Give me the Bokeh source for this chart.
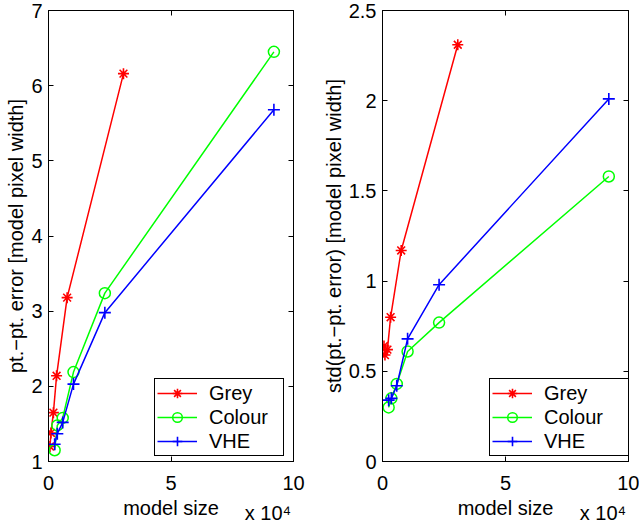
from bokeh.plotting import figure
from bokeh.layouts import row
from bokeh.models import (LinearAxis, FixedTicker, Legend, LegendItem, Range1d,
                          CustomLabelingPolicy)
from bokeh.embed import file_html
from bokeh.resources import INLINE

# ---- data (model size in absolute units) ----
grey_size = [600, 1000, 2000, 3300, 7600, 30600]
grey_err = [1.20, 1.38, 1.65, 2.14, 3.18, 6.16]
grey_std = [0.64, 0.59, 0.62, 0.80, 1.17, 2.31]

colour_size = [2500, 3600, 5800, 10200, 23000, 92000]
colour_err = [1.15, 1.48, 1.58, 2.19, 3.24, 6.45]
colour_std = [0.30, 0.35, 0.43, 0.61, 0.77, 1.58]

vhe_size = [2500, 3600, 5800, 10200, 23000, 92000]
vhe_err = [1.23, 1.37, 1.52, 2.03, 2.98, 5.68]
vhe_std = [0.34, 0.35, 0.42, 0.68, 0.98, 2.01]

x_ticks = [0, 50000, 100000]
x_tick_labels = ["0", "5", "10"]
left_y_ticks = [1, 2, 3, 4, 5, 6, 7]
left_y_labels = ["1", "2", "3", "4", "5", "6", "7"]
right_y_ticks = [0, 0.5, 1, 1.5, 2, 2.5]
right_y_labels = ["0", "0.5", "1", "1.5", "2", "2.5"]

x_title = "model size"
x_scale_note = "x 10\u2074"
left_title = "pt.\u2212pt. error [model pixel width]"
right_title = "std(pt.\u2212pt. error) [model pixel width]"

FONT = "Liberation Sans"
FS = "20px"


def style_axis(ax, ticks, labels, show_labels=True):
    ax.ticker = FixedTicker(ticks=ticks)
    ax.axis_line_color = "black"
    ax.axis_line_width = 1
    ax.major_tick_line_color = "black"
    ax.major_tick_in = 5
    ax.major_tick_out = 0
    ax.minor_tick_line_color = None
    ax.major_label_text_font = FONT
    ax.major_label_text_color = "black"
    ax.axis_label_text_font = FONT
    ax.axis_label_text_font_size = FS
    ax.axis_label_text_font_style = "normal"
    ax.axis_label_text_color = "black"
    if show_labels:
        ax.major_label_overrides = {t: l for t, l in zip(ticks, labels)}
        ax.major_label_text_font_size = FS
        ax.major_label_standoff = 5
    else:
        ax.major_label_overrides = {t: "" for t in ticks}
        ax.major_label_text_font_size = "1px"
        ax.major_label_standoff = 0
        ax.major_label_policy = CustomLabelingPolicy(code="return []")


def text_row(tick, text, standoff):
    ax = LinearAxis(ticker=FixedTicker(ticks=[tick]),
                    major_label_overrides={tick: text})
    ax.axis_line_color = None
    ax.major_tick_line_color = None
    ax.minor_tick_line_color = None
    ax.major_tick_in = 0
    ax.major_tick_out = 0
    ax.major_label_standoff = standoff
    ax.major_label_text_font = FONT
    ax.major_label_text_font_size = FS
    ax.major_label_text_color = "black"
    return ax


def panel(ylabel, err_grey, err_col, err_vhe, yr, yticks, ylabels,
          width, bl, br, leg_x, leg_label_w):
    p = figure(width=width, height=526, output_backend="svg", toolbar_location=None,
               x_range=Range1d(0, 100000), y_range=Range1d(*yr),
               min_border_left=bl, min_border_right=br,
               min_border_top=10, min_border_bottom=63)
    p.grid.visible = False
    p.outline_line_color = "black"
    p.background_fill_color = "white"
    p.border_fill_color = "white"

    style_axis(p.xaxis[0], x_ticks, x_tick_labels)
    p.xaxis[0].major_label_standoff = 14
    style_axis(p.yaxis[0], yticks, ylabels)
    p.yaxis[0].major_label_standoff = 6
    p.yaxis[0].axis_label = ylabel
    p.yaxis[0].axis_label_standoff = 1

    # rows below the x axis: axis title, then the x10^4 multiplier (slightly lower)
    p.add_layout(text_row(50000, x_title, 4), "below")
    p.add_layout(text_row(89600, x_scale_note, -20), "below")

    top = LinearAxis()
    style_axis(top, x_ticks, x_tick_labels, show_labels=False)
    p.add_layout(top, "above")
    right = LinearAxis()
    style_axis(right, yticks, ylabels, show_labels=False)
    p.add_layout(right, "right")

    items = []
    for name, xs, ys, color, marker, msize in [
        ("Grey", grey_size, err_grey, "#ff0000", "asterisk", 11),
        ("Colour", colour_size, err_col, "#00ff00", "circle", 11),
        ("VHE", vhe_size, err_vhe, "#0000ff", "cross", 12),
    ]:
        l = p.line(xs, ys, line_color=color, line_width=1.5)
        if marker == "circle":
            s = p.scatter(xs, ys, marker=marker, size=msize, fill_color=None,
                          line_color=color, line_width=1.5)
        else:
            s = p.scatter(xs, ys, marker=marker, size=msize, line_color=color,
                          line_width=1.6)
        items.append(LegendItem(label=name, renderers=[l, s]))

    leg = Legend(items=items, location=(leg_x, 5))
    leg.label_text_font = FONT
    leg.label_text_font_size = FS
    leg.label_text_color = "black"
    leg.border_line_color = "black"
    leg.border_line_width = 1
    leg.border_line_alpha = 1
    leg.background_fill_color = "white"
    leg.background_fill_alpha = 1
    leg.padding = 2
    leg.spacing = 0
    leg.margin = 0
    leg.glyph_width = 40
    leg.glyph_height = 24
    leg.label_height = 24
    leg.label_standoff = 12
    leg.label_width = leg_label_w
    p.add_layout(leg, "center")
    return p


p1 = panel(left_title, grey_err, colour_err, vhe_err,
           (1, 7), left_y_ticks, left_y_labels, 317, 48, 24, 106, 72)
p2 = panel(right_title, grey_std, colour_std, vhe_std,
           (0, 2.5), right_y_ticks, right_y_labels, 322, 65, 11, 107, 84)

layout = row(p1, p2)
open("out.html", "w").write(file_html(layout, INLINE))
